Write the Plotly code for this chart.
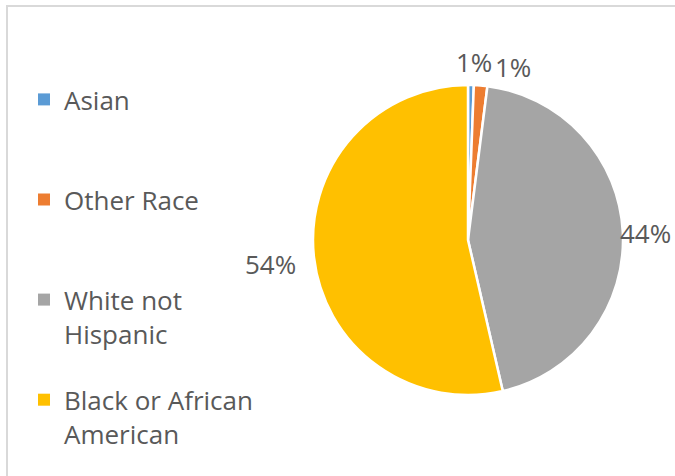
import math
import plotly.graph_objects as go

# Population share by race
categories = ["Asian", "Other Race", "White not Hispanic", "Black or African American"]
legend_labels = ["Asian", "Other Race", "White not<br>Hispanic", "Black or African<br>American"]
shares = [0.6, 1.4, 44.4, 53.6]
colors = ["#5B9BD5", "#ED7D31", "#A5A5A5", "#FFC000"]

W, H = 675, 476
text_color = "#595959"
font_family = "Open Sans"
font_size = 26

labels_pct = [f"{round(v)}%" for v in shares]

fig = go.Figure()

# Pie centred at (468, 240) px with 155 px radius
cx, cy, r = 468, 240, 155
fig.add_trace(go.Pie(
    labels=categories,
    values=shares,
    sort=False,
    direction="clockwise",
    rotation=0,
    marker=dict(colors=colors, line=dict(color="white", width=2.5)),
    textinfo="none",
    showlegend=False,
    hoverinfo="label+percent",
    domain=dict(x=[(cx - r) / W, (cx + r) / W], y=[(H - cy - r) / H, (H - cy + r) / H]),
))

# Percentage labels placed just outside each slice's mid-angle
label_dist = r + 23
label_nudge = [(3, 0), (30, 4), (0, 2), (-21, 4)]  # px (right, down)
total = sum(shares)
cum = 0.0
annotations = []
for v, txt, (dx, dy) in zip(shares, labels_pct, label_nudge):
    mid = (cum + v / 2) / total * 2 * math.pi
    cum += v
    px = cx + label_dist * math.sin(mid) + dx
    py = cy - label_dist * math.cos(mid) + dy
    annotations.append(dict(
        x=px / W, y=1 - py / H, xref="paper", yref="paper",
        text=txt, showarrow=False, xanchor="center", yanchor="middle",
        font=dict(family=font_family, size=font_size, color=text_color),
    ))

# Legend entries, one group each so they get equal spacing
for lab, col in zip(legend_labels, colors):
    if "<br>" not in lab:
        lab = lab + "<br>&nbsp;"
    fig.add_trace(go.Scatter(
        x=[None], y=[None], mode="markers", name=lab,
        marker=dict(symbol="square", size=12, color=col),
        legendgroup=lab, showlegend=True, hoverinfo="skip",
    ))

fig.update_layout(
    width=W, height=H,
    margin=dict(l=0, r=0, t=0, b=0),
    paper_bgcolor="white", plot_bgcolor="white",
    xaxis=dict(visible=False), yaxis=dict(visible=False),
    font=dict(family=font_family, size=font_size, color=text_color),
    annotations=annotations,
    legend=dict(
        x=24 / W, y=1 - 76 / H, xanchor="left", yanchor="top",
        valign="top", tracegroupgap=29.5,
        font=dict(family=font_family, size=font_size, color=text_color),
        itemwidth=30, bgcolor="rgba(0,0,0,0)",
    ),
    shapes=[dict(
        type="rect", xref="paper", yref="paper",
        x0=7 / W, x1=1.05, y0=-0.05, y1=1 - 6 / H,
        line=dict(color="#D9D9D9", width=2), fillcolor="rgba(0,0,0,0)",
    )],
)

fig.write_html("out.html")
